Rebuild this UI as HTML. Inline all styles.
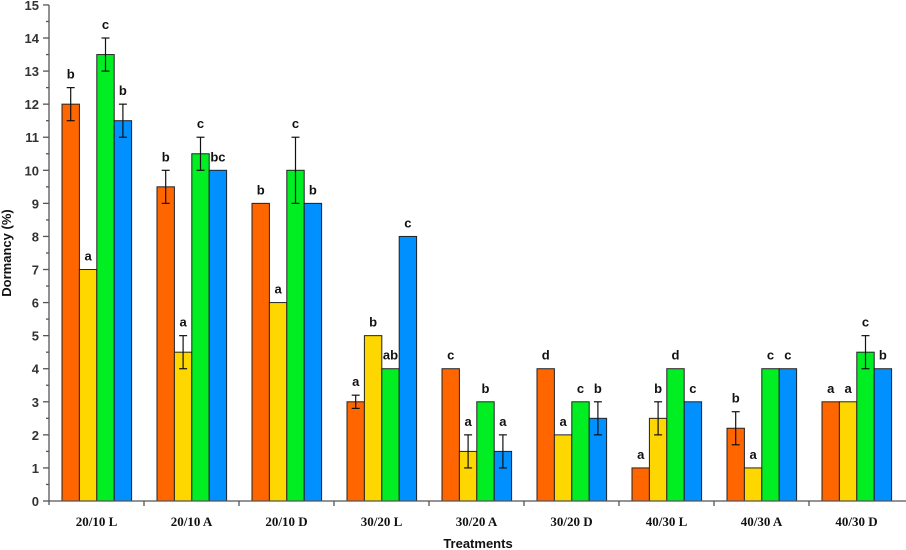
<!DOCTYPE html>
<html><head><meta charset="utf-8"><style>
html,body{margin:0;padding:0;background:#fff;}
svg{display:block;}
.yt{font-family:"Liberation Sans",sans-serif;font-weight:bold;font-size:13px;fill:#333;}
.xt{font-family:"Liberation Serif",serif;font-weight:bold;font-size:13px;fill:#111;}
.lt{font-family:"Liberation Sans",sans-serif;font-weight:bold;font-size:13px;fill:#111;}
</style></head><body>
<svg id="chart" width="906" height="550"></svg>
<script>
const categories=["20/10 L","20/10 A","20/10 D","30/20 L","30/20 A","30/20 D","40/30 L","40/30 A","40/30 D"];
const seriesOrange=[12,9.5,9,3,4,4,1,2.2,3];
const seriesYellow=[7,4.5,6,5,1.5,2,2.5,1,3];
const seriesGreen=[13.5,10.5,10,4,3,3,4,4,4.5];
const seriesBlue=[11.5,10,9,8,1.5,2.5,3,4,4];
const errOrange=[0.5,0.5,0,0.2,0,0,0,0.5,0];
const errYellow=[0,0.5,0,0,0.5,0,0.5,0,0];
const errGreen=[0.5,0.5,1,0,0,0,0,0,0.5];
const errBlue=[0.5,0,0,0,0.5,0.5,0,0,0];
const lettersOrange=["b","b","b","a","c","d","a","b","a"];
const lettersYellow=["a","a","a","b","a","a","b","a","a"];
const lettersGreen=["c","c","c","ab","b","c","d","c","c"];
const lettersBlue=["b","bc","b","c","a","b","c","c","b"];
const yTicks=[0,1,2,3,4,5,6,7,8,9,10,11,12,13,14,15];
const series=[[seriesOrange,errOrange,lettersOrange,"#ff6600","orange"],[seriesYellow,errYellow,lettersYellow,"#ffd700","yellow"],[seriesGreen,errGreen,lettersGreen,"#00ee22","green"],[seriesBlue,errBlue,lettersBlue,"#0090ff","blue"]];
const NS="http://www.w3.org/2000/svg",svg=document.getElementById('chart');
const X0=49,Y0=501,PX=33.07,GW=95,BW=17.4,OFF=13;
const y=v=>Y0-v*PX;
const gx=i=>X0+i*GW;
function mk(t,a,p){const e=document.createElementNS(NS,t);for(const k in a)e.setAttribute(k,a[k]);(p||svg).appendChild(e);return e;}
series.forEach((s,si)=>{
 s[0].forEach((v,i)=>{
  const x=gx(i)+OFF+si*BW;
  const r=mk('rect',{x:x,y:y(v),width:BW,height:Y0-y(v),fill:s[3],stroke:'#222','stroke-width':1});
  
  
  const e=s[1][i],cx=x+BW/2;
  if(e>0){
   const g=mk('g',{stroke:'#111','stroke-width':1.2});
   
   
   mk('line',{x1:cx,x2:cx,y1:y(v+e),y2:y(v-e)},g);
   mk('line',{x1:cx-4,x2:cx+4,y1:y(v+e),y2:y(v+e)},g);
   mk('line',{x1:cx-4,x2:cx+4,y1:y(v-e),y2:y(v-e)},g);
  }
  const t=mk('text',{x:cx,y:y(v+e)-9,'text-anchor':'middle',class:'lt'});
  t.textContent=s[2][i];
  
  
 });
});
const ax=mk('g',{stroke:'#555','stroke-width':1.3});


mk('line',{x1:X0,x2:X0,y1:y(15),y2:Y0+4},ax);
mk('line',{x1:X0,x2:906,y1:Y0,y2:Y0},ax);
yTicks.forEach(v=>{
 mk('line',{x1:X0-6,x2:X0,y1:y(v),y2:y(v)},ax);
 if(v<15)mk('line',{x1:X0-3,x2:X0,y1:y(v+0.5),y2:y(v+0.5)},ax);
 const t=mk('text',{x:X0-10,y:y(v)+5,'text-anchor':'end',class:'yt'});
 t.textContent=v;
 
 
});
categories.forEach((c,i)=>{
 if(i>0)mk('line',{x1:gx(i),x2:gx(i),y1:Y0,y2:Y0+5},ax);
 const t=mk('text',{x:gx(i)+GW/2,y:526,'text-anchor':'middle',class:'xt'});
 t.textContent=c;
 
 
});
const xt=mk('text',{x:478,y:548,'text-anchor':'middle',class:'lt','font-size':12});
xt.textContent='Treatments';


const yt=mk('text',{x:0,y:0,'text-anchor':'middle',class:'lt',transform:'translate(11,253) rotate(-90)','font-size':12});
yt.textContent='Dormancy (%)';


</script>
</body></html>
